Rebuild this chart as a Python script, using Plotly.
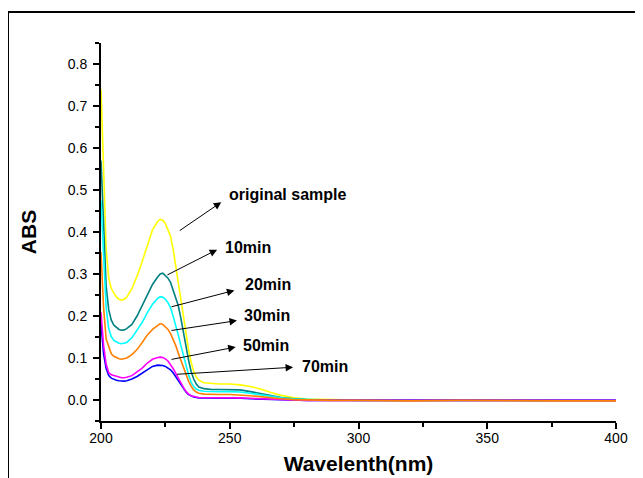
import plotly.graph_objects as go

wavelength = [200, 201, 202, 203, 204, 205, 206, 207, 208, 209, 210, 212, 214, 216, 218, 220,
              222, 223, 224, 225, 226, 227, 228, 229, 230, 231, 232, 233, 234, 235, 236, 237,
              238, 240, 243, 246, 250, 254, 258, 262, 266, 270, 275, 280, 290, 300, 320, 340,
              360, 380, 400]

abs_original = [0.74, 0.52, 0.36, 0.29, 0.265, 0.255, 0.245, 0.24, 0.238, 0.24, 0.245, 0.265, 0.295,
                0.33, 0.37, 0.405, 0.425, 0.43, 0.428, 0.42, 0.405, 0.39, 0.36, 0.32, 0.28, 0.24,
                0.195, 0.155, 0.12, 0.09, 0.068, 0.055, 0.047, 0.041, 0.039, 0.038, 0.038, 0.036,
                0.032, 0.026, 0.018, 0.011, 0.005, 0.002, 0.001, 0.0, 0.0, 0.0, 0.0, 0.0, -0.001]
abs_10min = [0.57, 0.40, 0.27, 0.215, 0.19, 0.178, 0.172, 0.168, 0.166, 0.167, 0.17, 0.18, 0.2,
             0.225, 0.25, 0.275, 0.293, 0.3, 0.302, 0.295, 0.29, 0.28, 0.262, 0.245, 0.225, 0.195,
             0.16, 0.125, 0.095, 0.068, 0.05, 0.038, 0.031, 0.027, 0.025, 0.025, 0.025, 0.024,
             0.02, 0.015, 0.01, 0.006, 0.003, 0.001, 0.0, 0.0, -0.001, 0.0, -0.001, 0.0, -0.001]
abs_20min = [0.475, 0.33, 0.22, 0.17, 0.15, 0.142, 0.138, 0.135, 0.134, 0.135, 0.137, 0.148, 0.165,
             0.185, 0.208, 0.228, 0.242, 0.246, 0.245, 0.24, 0.232, 0.22, 0.2, 0.18, 0.155, 0.13,
             0.105, 0.08, 0.06, 0.042, 0.032, 0.026, 0.023, 0.021, 0.02, 0.02, 0.02, 0.019,
             0.016, 0.012, 0.008, 0.005, 0.002, 0.001, 0.0, -0.001, -0.001, -0.002, -0.001, -0.001, -0.001]
abs_30min = [0.352, 0.22, 0.145, 0.125, 0.11, 0.104, 0.1, 0.098, 0.097, 0.098, 0.1, 0.108, 0.12,
             0.137, 0.155, 0.168, 0.178, 0.182, 0.18, 0.175, 0.168, 0.158, 0.145, 0.13, 0.112, 0.095,
             0.077, 0.06, 0.045, 0.033, 0.024, 0.019, 0.016, 0.014, 0.013, 0.013, 0.013, 0.012,
             0.01, 0.008, 0.005, 0.003, 0.001, 0.0, -0.001, -0.001, -0.002, -0.001, -0.002, -0.002, -0.002]
abs_50min = [0.209, 0.13, 0.085, 0.065, 0.06, 0.058, 0.056, 0.054, 0.053, 0.053, 0.054, 0.058, 0.066,
             0.076, 0.088, 0.097, 0.101, 0.102, 0.101, 0.098, 0.093, 0.085, 0.075, 0.064, 0.052, 0.04,
             0.03, 0.021, 0.014, 0.01, 0.008, 0.007, 0.006, 0.006, 0.005, 0.005, 0.005, 0.005,
             0.004, 0.003, 0.002, 0.001, 0.0, -0.001, -0.001, -0.001, -0.001, -0.001, -0.001, -0.001, -0.001]
abs_70min = [0.182, 0.11, 0.075, 0.058, 0.052, 0.049, 0.047, 0.046, 0.045, 0.045, 0.046, 0.05, 0.056,
             0.064, 0.073, 0.08, 0.083, 0.083, 0.082, 0.08, 0.077, 0.072, 0.065, 0.056, 0.046, 0.036,
             0.027, 0.019, 0.013, 0.009, 0.007, 0.006, 0.005, 0.005, 0.005, 0.005, 0.004, 0.004,
             0.003, 0.002, 0.001, 0.0, 0.0, -0.001, -0.001, -0.001, -0.001, -0.001, -0.001, -0.001, -0.001]

series_names = ["original sample", "10min", "20min", "30min", "50min", "70min"]
series_values = [abs_original, abs_10min, abs_20min, abs_30min, abs_50min, abs_70min]
series_colors = ["#FFFF00", "#008080", "#00FFFF", "#FF8000", "#FF00FF", "#0000FF"]

# label anchor points (text start), arrow tail (on curve) and arrow head (near label)
label_pos = [(249.1, 0.489), (247.5, 0.362), (255.0, 0.275), (254.7, 0.201), (254.4, 0.130), (277.4, 0.080)]
arrow_tail = [(230.0, 0.401), (225.2, 0.296), (226.8, 0.221), (226.8, 0.165), (226.8, 0.096), (228.9, 0.061)]
arrow_head = [(246.7, 0.471), (245.1, 0.358), (251.8, 0.261), (252.8, 0.189), (252.3, 0.126), (274.6, 0.078)]

FONT = "Liberation Sans, Arial, sans-serif"

fig = go.Figure()
draw_order = [0, 1, 2, 5, 4, 3]
for i in draw_order:
    fig.add_trace(go.Scatter(x=wavelength, y=series_values[i], mode="lines", name=series_names[i],
                             line=dict(color=series_colors[i], width=1.6), showlegend=False))

annotations = []
for name, (tx, ty), (ax_, ay_), (hx, hy) in zip(series_names, label_pos, arrow_tail, arrow_head):
    annotations.append(dict(x=hx, y=hy, ax=ax_, ay=ay_, xref="x", yref="y", axref="x", ayref="y",
                            text="", showarrow=True, arrowhead=2, arrowsize=1.5, arrowwidth=1,
                            arrowcolor="black", standoff=0, startstandoff=0))
    annotations.append(dict(x=tx, y=ty, xref="x", yref="y", text="<b>%s</b>" % name, showarrow=False,
                            xanchor="left", yanchor="middle",
                            font=dict(family=FONT, size=16, color="black")))

# the page is shown with an 8 px body margin, so figure coords = screen coords - 8
OFF = 8
W, H = 643, 478
L, T = 101 - OFF, 43 - OFF
pw, ph = 515, 378
R = W - L - pw
B = H - T - ph

fig.update_layout(
    width=W, height=H,
    margin=dict(l=L, r=R, t=T, b=B, autoexpand=False),
    paper_bgcolor="white", plot_bgcolor="white",
    font=dict(family=FONT, size=14, color="black"),
    annotations=annotations,
    shapes=[dict(type="rect", xref="paper", yref="paper",
                 x0=(8 - OFF - L) / pw, x1=(641 - OFF - L) / pw,
                 y0=(T + ph - (H + 5)) / ph, y1=(T + ph - (12 - OFF)) / ph,
                 line=dict(color="black", width=2), fillcolor="rgba(0,0,0,0)", layer="below")],
    xaxis=dict(range=[200, 400], dtick=50, tick0=200, showline=True, linecolor="black", linewidth=2,
               ticks="outside", ticklen=6, tickwidth=1.5, tickcolor="black", showgrid=False,
               zeroline=False, tickfont=dict(size=14), automargin=False, ticklabelstandoff=-3,
               minor=dict(dtick=25, ticks="outside", ticklen=4, tickwidth=1.5, tickcolor="black"),
               title=dict(text="<b>Wavelenth(nm)</b>", font=dict(size=21), standoff=12)),
    yaxis=dict(range=[-0.05, 0.85], dtick=0.1, tick0=0, tickformat=".1f", showline=True,
               linecolor="black", linewidth=2, ticks="outside", ticklen=6, tickwidth=1.5,
               tickcolor="black", showgrid=False, zeroline=False, tickfont=dict(size=14),
               automargin=False, ticklabelstandoff=3,
               minor=dict(dtick=0.05, ticks="outside", ticklen=4, tickwidth=1.5, tickcolor="black"),
               title=dict(text="<b>ABS</b>", font=dict(size=21), standoff=25)),
)

fig.write_html("out.html")
